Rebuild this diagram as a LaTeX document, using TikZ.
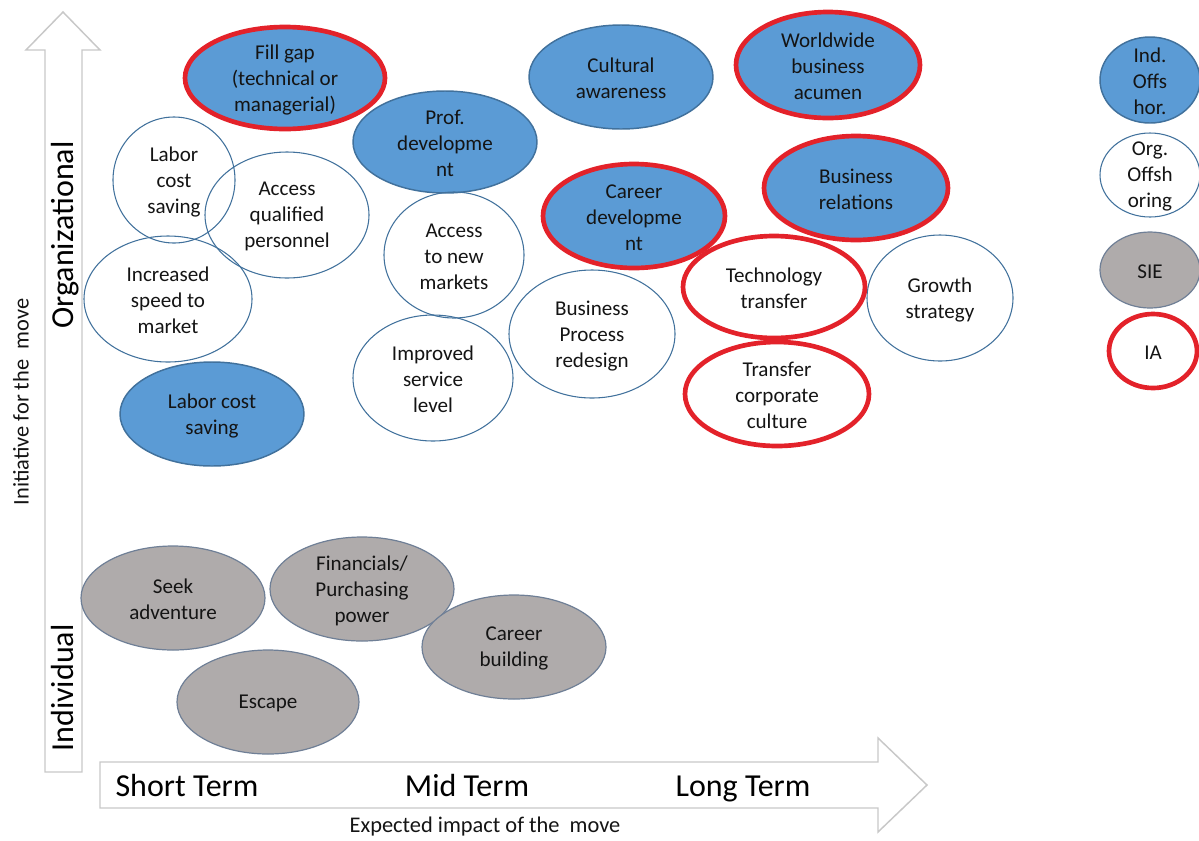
\documentclass[tikz,border=0pt]{standalone}
\usepackage{fontspec}
\setmainfont{Carlito}
\definecolor{ob}{HTML}{5B9BD5}
\definecolor{obd}{HTML}{41719C}
\definecolor{og}{HTML}{AFABAB}
\definecolor{ogd}{HTML}{6F7F96}
\definecolor{ored}{HTML}{E3222A}
\definecolor{axg}{HTML}{C8C8C8}
\definecolor{txt}{HTML}{141414}
\tikzset{
  blueE/.style={fill=ob, draw=obd, line width=1.1pt},
  blueR/.style={fill=ob, draw=ored, line width=3.5pt},
  whiteE/.style={draw=obd, line width=0.8pt},
  whiteR/.style={draw=ored, line width=3.5pt},
  grayE/.style={fill=og, draw=ogd, line width=0.9pt},
  lbl/.style={align=center, font=\fontsize{15.8}{19.5}\selectfont, text=txt, inner sep=0pt, yshift=-1.2pt},
  axisarrow/.style={draw=axg, line width=1.1pt, fill=white, line join=miter},
  axlbl/.style={font=\fontsize{24}{28}\selectfont, text=black, inner sep=0pt},
  axtitle/.style={font=\fontsize{16.8}{20}\selectfont, text=txt, inner sep=0pt},
}
\newcommand\myell[7]{%
  \path[#1] (#3,#4) ellipse [x radius=#5, y radius=#6];
  \node[lbl] (#2) at (#3,#4) {#7};}
\begin{document}
\begin{tikzpicture}[x=0.75pt,y=-0.75pt]
\useasboundingbox (0,0) rectangle (1199,840);
% axes
\path[axisarrow] (45,772) -- (45,50) -- (26,50) -- (63,12) -- (100,50) -- (82,50) -- (82,772) -- cycle;
\path[axisarrow] (100,762) -- (878,762) -- (878,738) -- (927,785) -- (878,832) -- (878,808) -- (100,808) -- cycle;
\node[axlbl, rotate=90] (org) at (65,235) {Organizational};
\node[axlbl, rotate=90] (ind) at (63,688) {Individual};
\node[axtitle, rotate=90] (ytitle) at (21,402) {Initiative for the\ \ move};
\node[axlbl, anchor=base] (st) at (187,796) {Short Term};
\node[axlbl, anchor=base] (mt) at (467,796) {Mid Term};
\node[axlbl, anchor=base] (lt) at (743,796) {Long Term};
\node[axtitle] (xtitle) at (485,827) {Expected impact of the\ \ move};
% blue ellipses
\myell{blueR}{fillgap}{285}{78}{100}{51}{Fill gap\\(technical or\\managerial)}
\myell{blueE}{cultural}{621}{77}{92}{52}{Cultural\\awareness}
\myell{blueR}{worldwide}{828}{65}{92}{53}{Worldwide\\business\\acumen}
\myell{blueE}{profdev}{445}{142}{92}{51}{Prof.\\developme\\nt}
\myell{blueR}{careerdev}{634}{216}{91}{52}{Career\\developme\\nt}
\myell{blueR}{busrel}{856}{188}{92}{52}{Business\\relations}
\myell{blueE}{laborblue}{212}{414}{92}{52}{Labor cost\\saving}
% gray ellipses
\myell{grayE}{seek}{173}{598}{92}{52}{Seek\\adventure}
\myell{grayE}{financials}{362}{589}{92}{52}{Financials/\\Purchasing\\power}
\myell{grayE}{careerbuild}{514}{647}{92}{52}{Career\\building}
\myell{grayE}{escape}{268}{702}{91}{52}{Escape}
% white ellipses
\myell{whiteE}{laborwhite}{174}{180}{61}{63}{Labor\\cost\\saving}
\myell{whiteE}{accessq}{287}{215}{82}{63}{Access\\qualified\\personnel}
\myell{whiteE}{accessnew}{454}{255}{70}{63}{Access\\to new\\markets}
\myell{whiteE}{growth}{940}{298}{73}{63}{Growth\\strategy}
\myell{whiteE}{speed}{168}{299}{84}{63}{Increased\\speed to\\market}
\myell{whiteE}{bpr}{592}{334}{83}{64}{Business\\Process\\redesign}
\myell{whiteE}{improved}{433}{378}{80}{63}{Improved\\service\\level}
% red white ellipses
\myell{whiteR}{techtrans}{774}{287}{91}{51}{Technology\\transfer}
\myell{whiteR}{transcult}{777}{394}{92}{52}{Transfer\\corporate\\culture}
% legend
\myell{blueE}{legind}{1150}{80}{50}{43}{Ind.\\Offs\\hor.}
\myell{whiteE}{legorg}{1150}{175}{50}{42}{Org.\\Offsh\\oring}
\myell{grayE}{legsie}{1150}{270}{50}{38}{SIE}
\myell{whiteR}{legia}{1153}{351}{44}{37}{IA}
\end{tikzpicture}
\end{document}
